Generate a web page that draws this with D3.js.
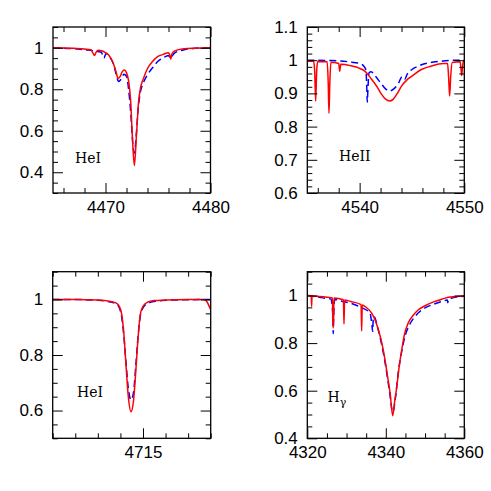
<!DOCTYPE html>
<html><head><meta charset="utf-8">
<script src="https://cdn.jsdelivr.net/npm/d3@7/dist/d3.min.js"></script>
<style>body{margin:0;background:#fff}</style>
</head><body><svg id="c" width="491" height="491"></svg>
<script>
// ---------- data: [wavelength (Å), normalised flux] ----------
const heI4471Red = [[4465,1.0],[4466,0.999],[4467,0.997],[4468,0.994],[4468.6,0.99],[4468.8,0.975],[4468.95,0.963],[4469.1,0.978],[4469.3,0.988],[4469.7,0.984],[4469.95,0.978],[4470.3,0.965],[4470.7,0.93],[4471.0,0.885],[4471.2,0.852],[4471.4,0.862],[4471.6,0.885],[4471.8,0.893],[4472.0,0.88],[4472.2,0.84],[4472.4,0.74],[4472.55,0.58],[4472.75,0.432],[4472.95,0.58],[4473.15,0.74],[4473.35,0.81],[4473.6,0.85],[4474.0,0.9],[4474.5,0.935],[4475.0,0.958],[4475.5,0.968],[4476.0,0.976],[4476.12,0.965],[4476.22,0.945],[4476.32,0.97],[4476.6,0.985],[4477.5,0.995],[4478.5,0.998],[4480,1.0]];
const heI4471Blue = [[4465,1.0],[4466,0.998],[4467,0.995],[4468,0.99],[4468.9,0.985],[4469.6,0.978],[4469.85,0.95],[4470.05,0.972],[4470.4,0.955],[4470.8,0.915],[4471.0,0.875],[4471.25,0.837],[4471.5,0.85],[4471.75,0.872],[4472.0,0.862],[4472.2,0.8],[4472.4,0.69],[4472.6,0.54],[4472.75,0.493],[4472.9,0.56],[4473.1,0.7],[4473.3,0.78],[4473.6,0.83],[4474.0,0.87],[4474.5,0.905],[4475.0,0.935],[4475.5,0.952],[4476.0,0.963],[4476.2,0.948],[4476.35,0.96],[4476.6,0.975],[4477.5,0.99],[4478.5,0.997],[4480,1.0]];

const heII4542Red = [[4535,0.997],[4535.6,0.997],[4535.7,0.97],[4535.8,0.877],[4535.9,0.97],[4536.0,0.996],[4536.9,0.995],[4537.0,0.93],[4537.07,0.84],[4537.15,0.93],[4537.25,0.994],[4538.0,0.99],[4538.1,0.967],[4538.2,0.988],[4538.6,0.987],[4539.2,0.983],[4539.9,0.977],[4540.5,0.967],[4541.15,0.942],[4541.7,0.918],[4542.1,0.897],[4542.5,0.882],[4542.85,0.877],[4543.2,0.882],[4543.6,0.9],[4544.0,0.922],[4544.5,0.94],[4545.0,0.952],[4545.9,0.972],[4546.8,0.982],[4548.0,0.99],[4548.4,0.99],[4548.5,0.95],[4548.6,0.892],[4548.7,0.95],[4548.85,0.993],[4549.6,0.995],[4549.68,0.975],[4549.75,0.954],[4549.82,0.975],[4549.9,0.997],[4550,0.997]];
const heII4542Blue = [[4535,1.0],[4536,1.0],[4537,0.999],[4538,0.998],[4539,0.995],[4540,0.99],[4540.4,0.982],[4540.6,0.97],[4540.67,0.93],[4540.73,0.874],[4540.8,0.92],[4540.9,0.962],[4541.1,0.965],[4541.5,0.952],[4542.0,0.932],[4542.5,0.913],[4542.85,0.907],[4543.2,0.912],[4543.7,0.93],[4544.05,0.95],[4544.3,0.942],[4544.55,0.958],[4545.0,0.972],[4545.6,0.982],[4546.3,0.99],[4547.2,0.995],[4548.2,0.998],[4549,1.0],[4550,1.0]];

const heI4713Red = [[4711,1.0],[4712,1.0],[4713,0.998],[4713.5,0.994],[4713.8,0.988],[4713.95,0.975],[4714.05,0.95],[4714.15,0.88],[4714.25,0.76],[4714.35,0.65],[4714.47,0.596],[4714.58,0.635],[4714.68,0.74],[4714.78,0.86],[4714.88,0.945],[4715.0,0.975],[4715.2,0.99],[4715.5,0.996],[4716,0.998],[4717,1.0],[4717.7,1.0],[4717.85,0.99],[4717.95,0.972],[4718,0.964]];
const heI4713Blue = [[4711,1.0],[4712,1.0],[4713,0.997],[4713.5,0.992],[4713.8,0.985],[4713.95,0.97],[4714.05,0.94],[4714.15,0.87],[4714.25,0.77],[4714.35,0.68],[4714.47,0.638],[4714.58,0.665],[4714.68,0.76],[4714.78,0.865],[4714.88,0.94],[4715.0,0.97],[4715.2,0.985],[4715.5,0.993],[4716,0.997],[4717,0.999],[4718,1.0]];

const hGammaRed = [[4320,1.0],[4321.0,0.999],[4321.1,0.954],[4321.2,0.998],[4324,0.995],[4326.4,0.99],[4326.5,0.9],[4326.6,0.863],[4326.7,0.9],[4326.8,0.989],[4329.2,0.982],[4329.35,0.88],[4329.5,0.981],[4331,0.975],[4333.7,0.962],[4333.85,0.851],[4334.0,0.96],[4335,0.95],[4336.4,0.926],[4337.2,0.9],[4338.1,0.856],[4339,0.8],[4339.8,0.73],[4340.5,0.655],[4341.1,0.59],[4341.75,0.495],[4342.3,0.56],[4342.8,0.617],[4343.4,0.7],[4344.05,0.771],[4344.8,0.84],[4345.7,0.884],[4347,0.917],[4348.3,0.94],[4350,0.957],[4351.7,0.97],[4353.5,0.98],[4355.1,0.989],[4357.5,0.995],[4360,0.998]];
const hGammaBlue = [[4320,1.0],[4322,0.995],[4324,0.99],[4326,0.985],[4326.5,0.92],[4326.6,0.84],[4326.75,0.93],[4327,0.983],[4329,0.975],[4330,0.972],[4332,0.962],[4334,0.948],[4336,0.925],[4336.5,0.87],[4336.65,0.849],[4336.8,0.9],[4337,0.912],[4338,0.86],[4339,0.79],[4340,0.7],[4341,0.59],[4341.75,0.51],[4342.5,0.575],[4343.2,0.68],[4344,0.76],[4345,0.835],[4346,0.875],[4348,0.922],[4350,0.948],[4352,0.962],[4354,0.974],[4355.7,0.981],[4355.8,0.97],[4355.9,0.981],[4357,0.99],[4360,0.997]];

// ---------- axis tick labels ----------
const xLabels1 = [4470, 4480];
const yLabels1 = [0.4, 0.6, 0.8, 1.0];
const xLabels2 = [4540, 4550];
const yLabels2 = [0.6, 0.7, 0.8, 0.9, 1.0, 1.1];
const xLabels3 = [4715];
const yLabels3 = [0.6, 0.8, 1.0];
const xLabels4 = [4320, 4340, 4360];
const yLabels4 = [0.4, 0.6, 0.8, 1.0];
const panelNames = ["HeI", "HeII", "HeI", "H"];

// ---------- layout ----------
const panels = [
  {left:53, top:27, w:157.5, h:166, xd:[4465,4480], yd:[0.3,1.1], xMaj:xLabels1, xMin:2, yMaj:yLabels1, yMin:0.05,
   red:heI4471Red, blue:heI4471Blue, name:panelNames[0], lx:75, ly:163},
  {left:307.3, top:27, w:157, h:166, xd:[4535,4550], yd:[0.6,1.1], xMaj:xLabels2, xMin:2, yMaj:yLabels2, yMin:0.02,
   red:heII4542Red, blue:heII4542Blue, name:panelNames[1], lx:339, ly:161},
  {left:52.7, top:271.7, w:158, h:166.6, xd:[4711,4718], yd:[0.5,1.1], xMaj:xLabels3, xMin:1, yMaj:yLabels3, yMin:0.05,
   red:heI4713Red, blue:heI4713Blue, name:panelNames[2], lx:77, ly:397},
  {left:307.3, top:271.7, w:157, h:166.6, xd:[4320,4360], yd:[0.4,1.1], xMaj:xLabels4, xMin:5, yMaj:yLabels4, yMin:0.05,
   red:hGammaRed, blue:hGammaBlue, name:panelNames[3], lx:327.5, ly:402, sub:"γ"}
];

const svg = d3.select("#c");
const fmt = d => String(+(+d).toFixed(2));
const TICKFONT = "Liberation Sans, Arial, sans-serif";
const LABELFONT = "DejaVu Serif";

function minorTicks(dom, step, majors) {
  const out = [];
  const s = Math.ceil(dom[0]/step - 1e-9), e = Math.floor(dom[1]/step + 1e-9);
  for (let i = s; i <= e; i++) {
    const v = +(i*step).toFixed(4);
    if (!majors.some(m => Math.abs(m - v) < 1e-6)) out.push(v);
  }
  return out;
}

panels.forEach((p, i) => {
  const g = svg.append("g").attr("transform", `translate(${p.left},${p.top})`);
  const x = d3.scaleLinear().domain(p.xd).range([0, p.w]);
  const y = d3.scaleLinear().domain(p.yd).range([p.h, 0]);

  const clipId = "clip" + i;
  g.append("clipPath").attr("id", clipId).append("rect").attr("width", p.w).attr("height", p.h);

  const line = d3.line().x(d => x(d[0])).y(d => y(d[1])).curve(d3.curveMonotoneX);
  const lines = g.append("g").attr("clip-path", `url(#${clipId})`);
  lines.append("path").datum(p.blue).attr("d", line).attr("fill", "none")
    .attr("stroke", "#0000ff").attr("stroke-width", 1.5).attr("stroke-dasharray", "7,4");
  lines.append("path").datum(p.red).attr("d", line).attr("fill", "none")
    .attr("stroke", "#ff0000").attr("stroke-width", 1.5);

  const xMinV = minorTicks(p.xd, p.xMin, p.xMaj);
  const yMinV = minorTicks(p.yd, p.yMin, p.yMaj);

  const styleAxis = sel => {
    sel.select(".domain").remove();
    sel.selectAll("line").attr("stroke", "#000").attr("stroke-width", 1);
    sel.attr("font-family", TICKFONT).attr("font-size", 17);
    sel.selectAll("text").attr("fill", "#000");
  };

  // bottom
  g.append("g").attr("transform", `translate(0,${p.h})`)
    .call(d3.axisBottom(x).tickValues(p.xMaj).tickSizeInner(-10).tickSizeOuter(0).tickPadding(7.5).tickFormat(fmt)).call(styleAxis);
  g.append("g").attr("transform", `translate(0,${p.h})`)
    .call(d3.axisBottom(x).tickValues(xMinV).tickSizeInner(-5).tickSizeOuter(0).tickFormat("")).call(styleAxis);
  // top
  g.append("g").call(d3.axisTop(x).tickValues(p.xMaj).tickSizeInner(-10).tickSizeOuter(0).tickFormat("")).call(styleAxis);
  g.append("g").call(d3.axisTop(x).tickValues(xMinV).tickSizeInner(-5).tickSizeOuter(0).tickFormat("")).call(styleAxis);
  // left
  g.append("g").call(d3.axisLeft(y).tickValues(p.yMaj).tickSizeInner(-10).tickSizeOuter(0).tickPadding(9.5).tickFormat(fmt)).call(styleAxis);
  g.append("g").call(d3.axisLeft(y).tickValues(yMinV).tickSizeInner(-5).tickSizeOuter(0).tickFormat("")).call(styleAxis);
  // right
  g.append("g").attr("transform", `translate(${p.w},0)`)
    .call(d3.axisRight(y).tickValues(p.yMaj).tickSizeInner(-10).tickSizeOuter(0).tickFormat("")).call(styleAxis);
  g.append("g").attr("transform", `translate(${p.w},0)`)
    .call(d3.axisRight(y).tickValues(yMinV).tickSizeInner(-5).tickSizeOuter(0).tickFormat("")).call(styleAxis);

  // frame
  g.append("rect").attr("width", p.w).attr("height", p.h).attr("fill", "none")
    .attr("stroke", "#000").attr("stroke-width", 1.3);

  // label
  const t = svg.append("text").attr("x", p.lx).attr("y", p.ly)
    .attr("font-family", LABELFONT).attr("font-size", 14).attr("fill", "#000").text(p.name);
  if (p.sub) t.append("tspan").attr("dy", 4).attr("font-size", 11).text(p.sub);
});
</script>
</body></html>
